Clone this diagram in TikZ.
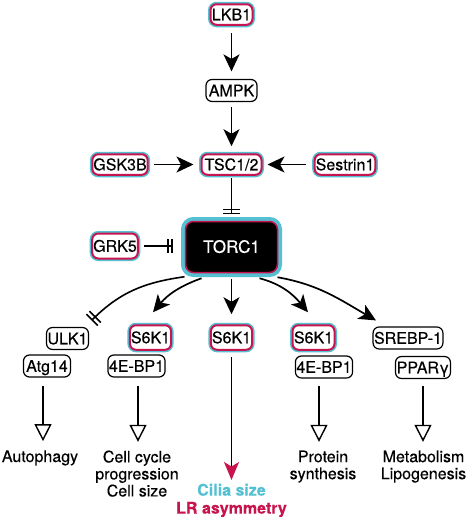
\documentclass[tikz,border=0pt]{standalone}
\usepackage{fontspec}
\setmainfont{TeX Gyre Heros}[FakeBold=0.35]
\usetikzlibrary{arrows.meta,calc}
\definecolor{cyanc}{RGB}{84,192,210}
\definecolor{crim}{RGB}{200,20,78}
\begin{document}
\begin{tikzpicture}[x=1pt,y=1pt,
  font=\fontsize{16}{17}\selectfont,
  basebox/.style={rounded corners=6pt, inner xsep=1pt, inner ysep=0pt, text height=11.5pt, text depth=0pt, align=center},
  box/.style={basebox, draw=black, line width=1.2pt, fill=white, minimum height=22pt},
  hbox/.style={basebox, preaction={draw=cyanc, line width=5pt}, draw=crim, line width=2pt, fill=white, minimum height=20.5pt},
  torcbox/.style={basebox, preaction={draw=cyanc, line width=9pt}, draw=crim, line width=1.5pt, fill=black, text=white, minimum width=92pt, minimum height=51pt, rounded corners=8pt, font=\fontsize{17}{18}\selectfont},
  lbl/.style={inner sep=0pt, align=center},
  arr/.style={line width=1.7pt, -{Stealth[length=17pt,width=16pt,inset=4.5pt]}},
  oarr/.style={line width=1.4pt, -{Triangle[open,length=17pt,width=17pt,fill=white]}},
  inh/.style={line width=1.6pt, -{Bar[width=#1,sep=2.5pt]Bar[width=#1]}},
]
\useasboundingbox (0,0) rectangle (467,-517);

% nodes
\node[hbox, minimum width=42pt] (lkb) at (231.5,-14.5) {LKB1};
\node[box, minimum width=51pt] (ampk) at (231.5,-90.5) {AMPK};
\node[hbox, minimum width=60pt] (tsc) at (231.5,-164.5) {TSC1/2};
\node[hbox, minimum width=55pt] (gsk) at (120,-164.5) {GSK3B};
\node[hbox, minimum width=59pt] (ses) at (345,-164.5) {Sestrin1};
\node[torcbox] (torc) at (231.5,-247) {TORC1};
\node[hbox, minimum width=45pt, minimum height=25pt] (grk) at (115,-246) {GRK5};
\node[box, minimum width=42pt] (ulk) at (67.5,-338.5) {ULK1};
\node[box, minimum width=47pt] (atg) at (47,-366) {Atg14};
\node[hbox, minimum width=41pt, minimum height=24.5pt] (s6a) at (150.5,-337.5) {S6K1};
\node[hbox, minimum width=41pt, minimum height=24.5pt] (s6b) at (231.5,-337.5) {S6K1};
\node[hbox, minimum width=42pt, minimum height=24.5pt] (s6c) at (313.5,-337.5) {S6K1};
\node[box, minimum width=56pt] (bpa) at (136.5,-366) {4E-BP1};
\node[box, minimum width=57pt] (bpb) at (324,-367) {4E-BP1};
\node[box, minimum width=69pt] (srebp) at (408,-338) {SREBP-1};
\node[box, minimum width=55pt] (ppar) at (423,-367.5) {PPARγ};

% outcome labels
\node[lbl, anchor=base] (auto) at (40,-462) {Autophagy};
\node[lbl, anchor=north] (cell) at (137,-450.3) {Cell cycle\\progression\\Cell size};
\node[lbl, anchor=north] (prot) at (323,-450.3) {Protein\\synthesis};
\node[lbl, anchor=north] (meta) at (423.5,-450.3) {Metabolism\\Lipogenesis};
\node[lbl, anchor=north, font=\fontsize{16}{18}\selectfont\bfseries] (cilia) at (231.5,-483.5) {\textcolor{cyanc}{Cilia size}\\\textcolor{crim}{LR asymmetry}};

% connectors
\draw[arr] ($(lkb.south)+(0,-7.5)$) -- ($(ampk.north)+(0,7.5)$);
\draw[arr] ($(ampk.south)+(0,-4.5)$) -- ($(tsc.north)+(0,7)$);
\draw[arr] ($(gsk.east)+(5.5,0)$) -- ($(tsc.west)+(-7,0)$);
\draw[arr] ($(ses.west)+(-7.5,0)$) -- ($(tsc.east)+(5,0)$);
\draw[inh=17pt] ($(tsc.south)+(0,-2.5)$) -- ($(torc.north)+(0,6.5)$);
\draw[inh=14pt] ($(grk.east)+(5.5,0)$) -- ($(grk.east -| torc.west)+(-12,0)$);

\draw[inh=16pt] ($(torc.south)+(-47,-3.5)$) to[out=188,in=45] ($(ulk.north east)+(2.5,6.5)$);
\draw[arr] ($(torc.south)+(-30,-5)$) to[out=200,in=50] ($(s6a.north)+(2.5,12)$);
\draw[arr] ($(torc.south)+(0,-6)$) -- ($(s6b.north)+(0,10)$);
\draw[arr] ($(torc.south)+(28,-5)$) to[out=-15,in=130] ($(s6c.north)+(-5.5,12)$);
\draw[arr] ($(torc.south)+(46,-4)$) to[out=-10,in=150] ($(srebp.north west)+(3.5,6)$);

\draw[line width=1.7pt, -{Stealth[length=18pt,width=15pt,inset=4.5pt,color=crim]}] ($(s6b.south)+(0,-6)$) -- ($(cilia.north)+(0,3.5)$);

\draw[oarr] ($(atg.south)+(-4,-8)$) -- ($(auto.north)+(3,9)$);
\draw[oarr] ($(bpa.south)+(1.5,-8)$) -- ($(cell.north)+(1,8.5)$);
\draw[oarr] ($(bpb.south)+(-5,-7)$) -- ($(prot.north)+(-4,8.5)$);
\draw[oarr] ($(ppar.south)+(0,-7)$) -- ($(meta.north)+(-0.5,8.5)$);
\end{tikzpicture}
\end{document}
